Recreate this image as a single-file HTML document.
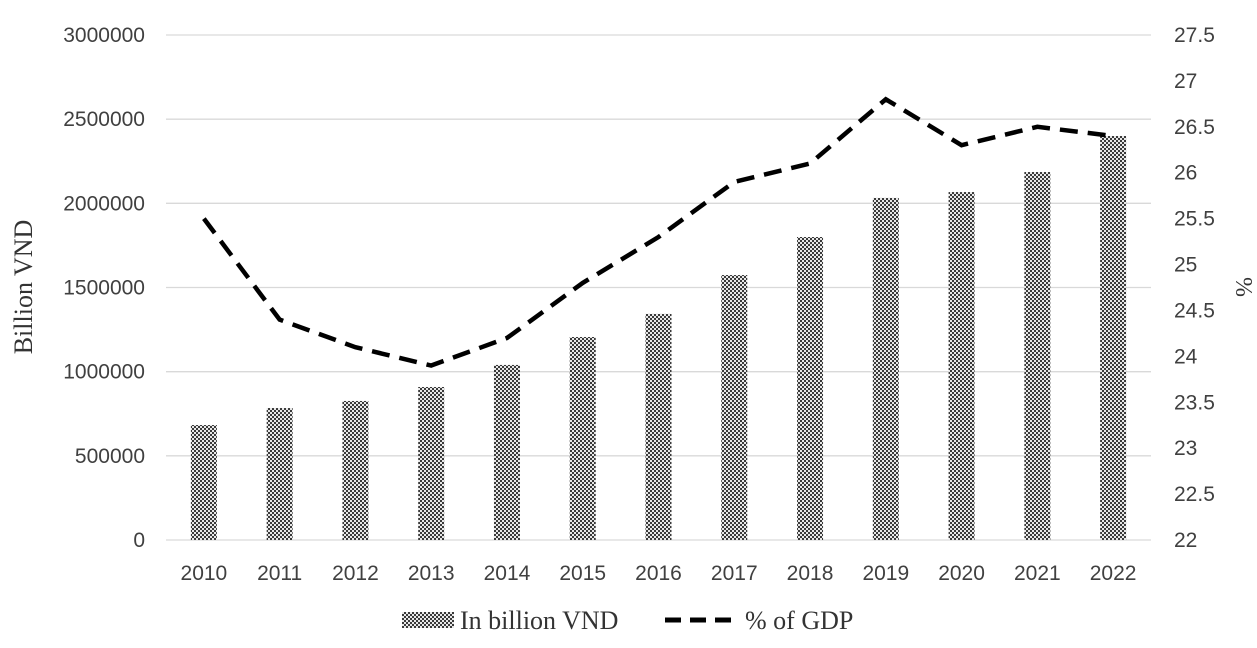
<!DOCTYPE html>
<html><head><meta charset="utf-8"><style>
body{margin:0;background:#fff}
svg text{font-family:"Liberation Sans",sans-serif;font-size:21px;fill:#404040}
</style></head><body>
<svg width="1257" height="643">
<defs><pattern id="chk" width="4" height="4" patternUnits="userSpaceOnUse">
<rect width="4" height="4" fill="#e8e8e8"/><rect width="2" height="2" fill="#3a3a3a"/><rect x="2" y="2" width="2" height="2" fill="#3a3a3a"/>
</pattern></defs>
<g id="grid"></g><g id="bars"></g><g id="line"></g><g id="labels"></g>
<text x="32" y="287" transform="rotate(-90 32 287)" text-anchor="middle" style="font-family:'Liberation Serif',serif;font-size:26px;fill:#333">Billion VND</text>
<text x="1236" y="287" transform="rotate(90 1236 287)" text-anchor="middle" style="font-family:'Liberation Serif',serif;font-size:24px;fill:#333">%</text>
<g>
<rect x="402" y="612" width="52" height="16" fill="url(#chk)"/>
<text x="460" y="629" style="font-family:'Liberation Serif',serif;font-size:26px;fill:#333">In billion VND</text>
<line x1="665" y1="620" x2="735" y2="620" stroke="#000" stroke-width="5" stroke-dasharray="16,9"/>
<text x="745" y="629" style="font-family:'Liberation Serif',serif;font-size:26px;fill:#333">% of GDP</text>
</g>
</svg>
<script>
const categories=["2010","2011","2012","2013","2014","2015","2016","2017","2018","2019","2020","2021","2022"];
const billionVND=[683000,784000,826000,909000,1040000,1206000,1343000,1574000,1800000,2032000,2067000,2186000,2400000];
const pctGDP=[25.5,24.4,24.1,23.9,24.2,24.8,25.3,25.9,26.1,26.8,26.3,26.5,26.4];
const leftTicks=[0,500000,1000000,1500000,2000000,2500000,3000000];
const rightTicks=[22,22.5,23,23.5,24,24.5,25,25.5,26,26.5,27,27.5];
const NS="http://www.w3.org/2000/svg";
const x0=166,x1=1151,yB=540,yT=35;
const step=(x1-x0)/categories.length;
const xc=i=>x0+step*(i+0.5);
const yL=v=>yB-(v/3000000)*(yB-yT);
const yR=v=>yB-((v-22)/5.5)*(yB-yT);
function mk(t,a,p){const e=document.createElementNS(NS,t);for(const k in a)e.setAttribute(k,a[k]);p.appendChild(e);return e;}
const grid=document.getElementById('grid'),bars=document.getElementById('bars'),line=document.getElementById('line'),labels=document.getElementById('labels');
leftTicks.forEach(v=>{
const g=mk('line',{x1:x0,x2:x1,y1:yL(v),y2:yL(v),stroke:'#d9d9d9','stroke-width':1.3},grid);


const t=mk('text',{x:145,y:yL(v)+7,'text-anchor':'end'},labels);t.textContent=v;


});
rightTicks.forEach(v=>{
const t=mk('text',{x:1174,y:yR(v)+7},labels);t.textContent=v;


});
categories.forEach((c,i)=>{
const b=mk('rect',{x:xc(i)-13,y:yL(billionVND[i]),width:26,height:yB-yL(billionVND[i]),fill:'url(#chk)'},bars);


const t=mk('text',{x:xc(i),y:580,'text-anchor':'middle'},labels);t.textContent=c;


});
const p=mk('polyline',{points:pctGDP.map((v,i)=>xc(i)+','+yR(v)).join(' '),fill:'none',stroke:'#000','stroke-width':4.5,'stroke-dasharray':'18,10'},line);


</script>
</body></html>
